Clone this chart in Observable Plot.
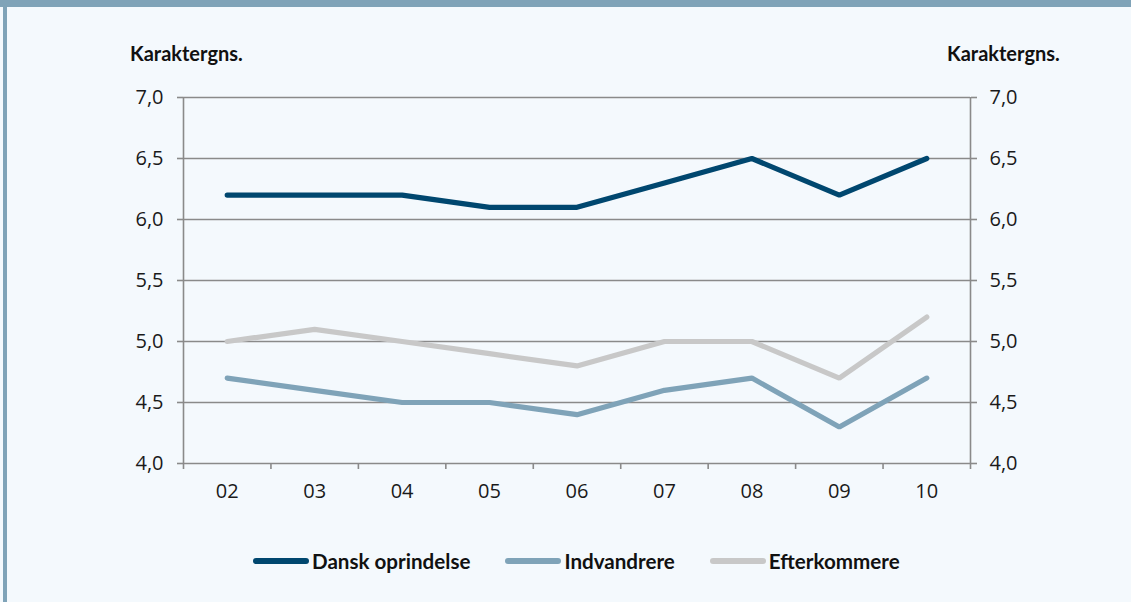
<!DOCTYPE html>
<html>
<head>
<meta charset="utf-8">
<script src="https://cdn.jsdelivr.net/npm/d3@7"></script>
<script src="https://cdn.jsdelivr.net/npm/@observablehq/plot@0.6"></script>
<style>
  html, body { margin: 0; padding: 0; }
  body { width: 1131px; height: 602px; background: #f4f9fd; position: relative; overflow: hidden; font-family: "Open Sans", sans-serif; }
  #band { position: absolute; left: 0; top: 0; width: 1131px; height: 7px; background: #7fa3b8; }
  #lborder { position: absolute; left: 3px; top: 7px; width: 4px; height: 595px; background: #7fa3b8; }
  #chart { position: absolute; left: 0; top: 0; }
  .ylab { position: absolute; top: 41px; font-family: Lato, sans-serif; font-weight: 700; font-size: 20px; color: #111; line-height: 24px; white-space: nowrap; }
  #legend { position: absolute; left: 253px; top: 549px; display: flex; gap: 35px; align-items: center; font-family: Lato, sans-serif; font-weight: 700; font-size: 20.6px; color: #111; line-height: 24px; }
  .item { display: flex; align-items: center; gap: 3px; }
  .sw { width: 56px; height: 6px; border-radius: 3px; }
</style>
</head>
<body>
<div id="band"></div>
<div id="lborder"></div>
<div id="chart"></div>
<div class="ylab" style="left:130px">Karaktergns.</div>
<div class="ylab" style="left:947px">Karaktergns.</div>
<div id="legend"></div>
<script>
const years = ["02", "03", "04", "05", "06", "07", "08", "09", "10"];
const seriesNames = ["Dansk oprindelse", "Indvandrere", "Efterkommere"];
const dansk = [6.2, 6.2, 6.2, 6.1, 6.1, 6.3, 6.5, 6.2, 6.5];
const indvandrere = [4.7, 4.6, 4.5, 4.5, 4.4, 4.6, 4.7, 4.3, 4.7];
const efterkommere = [5.0, 5.1, 5.0, 4.9, 4.8, 5.0, 5.0, 4.7, 5.2];
const yTicks = [4.0, 4.5, 5.0, 5.5, 6.0, 6.5, 7.0];
const colors = ["#00476f", "#7fa3b8", "#c8c8c8"];

const seriesValues = [dansk, indvandrere, efterkommere];
const data = [];
seriesNames.forEach((name, s) => {
  seriesValues[s].forEach((v, i) => data.push({series: name, i, year: years[i], value: v}));
});
const boundaries = d3.range(years.length + 1).map(k => k - 0.5);
const fmt = d => d.toFixed(1).replace(".", ",");

const chart = Plot.plot({
  width: 1131,
  height: 520,
  marginLeft: 183,
  marginRight: 161,
  marginTop: 97,
  marginBottom: 57,
  style: {background: "transparent", fontFamily: "'Open Sans', sans-serif", fontSize: "20px", color: "#1a1a1a"},
  x: {type: "linear", domain: [-0.5, years.length - 0.5]},
  y: {domain: [4, 7]},
  color: {domain: seriesNames, range: colors},
  marks: [
    Plot.ruleY(yTicks, {stroke: "#8a8a8a", strokeWidth: 1.6}),
    Plot.ruleX([-0.5, years.length - 0.5], {y1: 4, y2: 7, stroke: "#8a8a8a", strokeWidth: 1.6}),
    Plot.axisY(yTicks, {anchor: "left", tickSize: 6, tickPadding: 14, tickFormat: fmt, stroke: "#8a8a8a", strokeWidth: 1.6, fill: "#1a1a1a", label: null, fontSize: 20}),
    Plot.axisY(yTicks, {anchor: "right", tickSize: 6, tickPadding: 13, tickFormat: fmt, stroke: "#8a8a8a", strokeWidth: 1.6, fill: "#1a1a1a", label: null, fontSize: 20}),
    Plot.axisX(boundaries, {anchor: "bottom", tickSize: 6, tickFormat: () => "", stroke: "#8a8a8a", strokeWidth: 1.6, label: null}),
    Plot.axisX(d3.range(years.length), {anchor: "bottom", tickSize: 0, tickPadding: 20, tickFormat: i => years[i], fill: "#1a1a1a", label: null, fontSize: 20}),
    Plot.line(data, {x: "i", y: "value", z: "series", stroke: "series", strokeWidth: 5.2, strokeLinecap: "round", strokeLinejoin: "miter"})
  ]
});
document.getElementById("chart").appendChild(chart);

const legend = document.getElementById("legend");
seriesNames.forEach((name, s) => {
  const item = document.createElement("div");
  item.className = "item";
  const sw = document.createElement("span");
  sw.className = "sw";
  sw.style.background = colors[s];
  const t = document.createElement("span");
  t.textContent = name;
  item.appendChild(sw);
  item.appendChild(t);
  legend.appendChild(item);
});
</script>
</body>
</html>
